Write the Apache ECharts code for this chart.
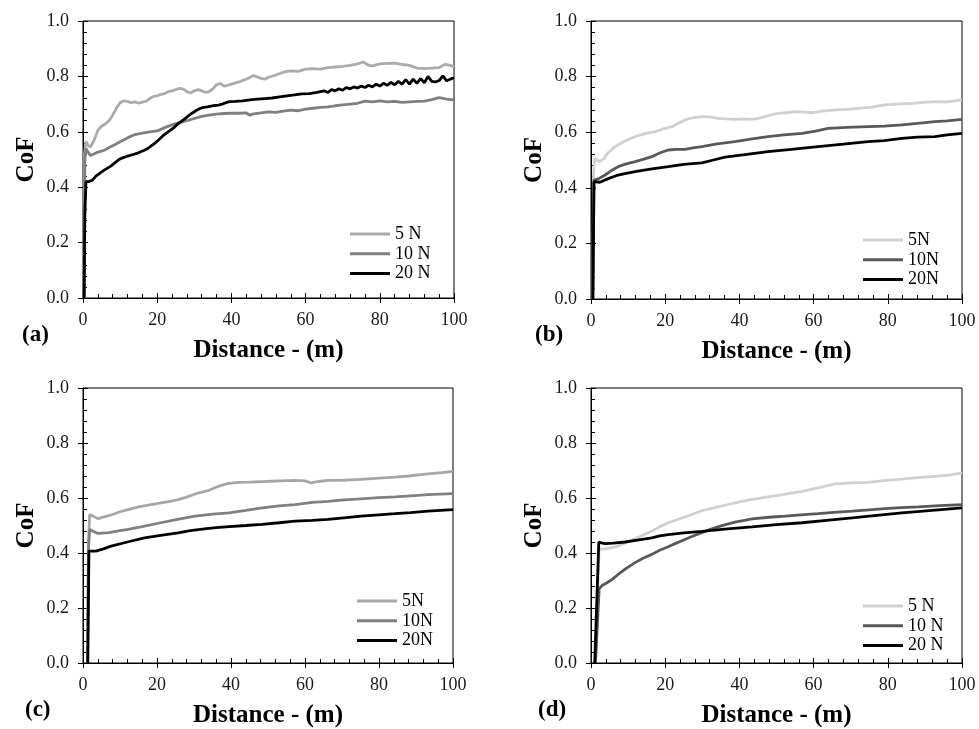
<!DOCTYPE html>
<html>
<head>
<meta charset="utf-8">
<script src="https://cdn.jsdelivr.net/npm/echarts@6.0.0/dist/echarts.min.js"></script>
<style>
  html, body { margin: 0; padding: 0; background: #fff; }
  #chart { width: 979px; height: 729px; }
</style>
</head>
<body>
<div id="chart"></div>
<script>
// [distance (m), CoF] pairs
const a5N = [[0.3,0],[0.4,0.52],[0.8,0.565],[1.4,0.55],[2,0.545],[3,0.57],[4,0.605],[5,0.62],[6,0.628],[7,0.64],[8,0.66],[9,0.685],[10,0.705],[11,0.712],[12,0.71],[13,0.705],[14,0.708],[15,0.703],[16,0.707],[17,0.71],[18,0.72],[19,0.728],[20,0.73],[21,0.735],[22,0.738],[23,0.745],[24,0.748],[25,0.752],[26,0.757],[27,0.754],[28,0.745],[29,0.74],[30,0.748],[31,0.752],[32,0.748],[33,0.742],[34,0.745],[35,0.755],[36,0.77],[37,0.775],[38,0.765],[39,0.768],[40,0.772],[42,0.78],[44,0.79],[46,0.803],[48,0.793],[49,0.79],[50,0.797],[52,0.805],[54,0.815],[56,0.82],[58,0.818],[60,0.826],[62,0.828],[64,0.826],[66,0.832],[68,0.834],[70,0.836],[72,0.84],[74,0.845],[75.5,0.852],[77,0.84],[78,0.838],[80,0.845],[82,0.847],[84,0.848],[86,0.843],[88,0.84],[90,0.83],[92,0.828],[94,0.83],[96,0.832],[97.5,0.843],[99,0.84],[100,0.835]];
const a10N = [[0.3,0],[0.5,0.5],[0.8,0.54],[1.2,0.53],[2,0.515],[3,0.52],[4,0.527],[5,0.53],[6,0.535],[7,0.543],[8,0.55],[9,0.557],[10,0.564],[12,0.578],[14,0.59],[16,0.595],[18,0.6],[20,0.603],[22,0.615],[24,0.625],[26,0.633],[28,0.64],[30,0.648],[32,0.656],[34,0.66],[36,0.664],[38,0.666],[40,0.667],[42,0.667],[44,0.668],[45,0.66],[46,0.665],[48,0.668],[50,0.672],[52,0.67],[54,0.675],[56,0.678],[58,0.676],[60,0.682],[62,0.685],[64,0.688],[66,0.69],[68,0.694],[70,0.697],[72,0.7],[74,0.703],[76,0.711],[78,0.708],[80,0.712],[82,0.708],[84,0.71],[86,0.706],[88,0.708],[90,0.71],[92,0.711],[94,0.716],[96,0.723],[98,0.718],[100,0.715]];
const a20N = [[0.3,0],[0.5,0.3],[0.8,0.42],[1.5,0.42],[2.5,0.425],[3.5,0.44],[4.5,0.45],[5.5,0.46],[6.5,0.468],[7.5,0.476],[8.5,0.487],[9.5,0.498],[10.5,0.505],[11.5,0.51],[12.5,0.514],[13.5,0.518],[14.5,0.522],[15.5,0.528],[16.5,0.533],[17.5,0.54],[18.5,0.55],[19.5,0.56],[20.5,0.572],[21.5,0.585],[22.5,0.595],[23.5,0.605],[24.5,0.615],[25.5,0.628],[26.5,0.638],[27.5,0.648],[28.5,0.658],[29.5,0.668],[30.5,0.677],[31.5,0.684],[32.5,0.688],[33.5,0.69],[34.5,0.693],[35.5,0.695],[36.5,0.696],[37.5,0.7],[38.5,0.705],[39.5,0.709],[41,0.71],[43,0.712],[45,0.715],[47,0.718],[49,0.72],[51,0.722],[53,0.726],[55,0.73],[57,0.733],[59,0.737],[61,0.738],[63,0.742],[65,0.748],[66,0.742],[67,0.752],[68,0.748],[69,0.755],[70,0.75],[71,0.76],[72,0.755],[73,0.762],[74,0.758],[75,0.765],[76,0.76],[77,0.768],[78,0.762],[79,0.772],[80,0.765],[81,0.775],[82,0.768],[83,0.778],[84,0.77],[85,0.782],[86,0.772],[87,0.788],[88,0.772],[89,0.79],[90,0.775],[91,0.792],[92,0.777],[93,0.8],[94,0.782],[95,0.78],[96,0.785],[97,0.802],[98,0.784],[99,0.79],[100,0.795]];

const b5N = [[0.5,0],[0.7,0.45],[1,0.505],[1.7,0.5],[2.4,0.494],[3.5,0.505],[4.5,0.525],[6.5,0.548],[9,0.567],[11.9,0.584],[14.5,0.595],[17.3,0.602],[19.5,0.612],[21.8,0.62],[23.5,0.632],[25.3,0.644],[27.5,0.652],[29.9,0.656],[32,0.655],[34.2,0.65],[36.5,0.648],[38.8,0.646],[41,0.648],[43.4,0.646],[45,0.65],[46.9,0.656],[48.5,0.662],[50.4,0.668],[52.5,0.67],[55,0.674],[57.5,0.672],[59.6,0.67],[62.5,0.676],[65.8,0.68],[69,0.682],[72,0.686],[75.5,0.69],[79.2,0.698],[83,0.702],[86.5,0.704],[89.5,0.707],[92.7,0.71],[96,0.709],[100,0.716]];
const b10N = [[0.5,0],[0.8,0.428],[2,0.432],[3.8,0.446],[5.5,0.462],[7.3,0.476],[9.5,0.486],[11.9,0.494],[14,0.502],[16.4,0.512],[18.5,0.525],[20.8,0.536],[23,0.538],[25.3,0.538],[27.5,0.544],[29.9,0.548],[34,0.558],[38.8,0.566],[43,0.575],[47.7,0.584],[52,0.59],[56.9,0.596],[60.5,0.604],[63.9,0.614],[69,0.617],[74.7,0.62],[79,0.622],[83.8,0.626],[88,0.632],[92.7,0.638],[96,0.641],[100,0.646]];
const b20N = [[0.5,0],[0.8,0.422],[2.4,0.42],[4.5,0.432],[7.3,0.446],[9.5,0.452],[11.9,0.458],[16,0.467],[20.8,0.476],[25,0.484],[29.9,0.49],[33,0.5],[36.1,0.51],[42,0.52],[47.7,0.53],[54,0.538],[61.2,0.548],[68,0.557],[74.7,0.566],[79,0.57],[83.8,0.578],[88,0.582],[92.7,0.584],[96,0.59],[100,0.596]];

const c5N = [[1.2,0],[1.5,0.45],[1.8,0.54],[2.6,0.535],[4,0.525],[6,0.532],[8,0.54],[10,0.55],[12.2,0.558],[15,0.568],[18,0.575],[21,0.582],[23.5,0.588],[25.7,0.594],[28,0.603],[31.1,0.618],[34,0.628],[36.5,0.642],[39,0.652],[41.9,0.657],[45,0.658],[49.2,0.66],[53,0.662],[57.3,0.664],[60,0.662],[61.6,0.655],[63.5,0.66],[66.2,0.664],[70,0.664],[75.1,0.668],[80,0.672],[84.3,0.676],[88,0.68],[93.2,0.688],[97,0.692],[100,0.697]];
const c10N = [[1.2,0],[1.5,0.42],[1.8,0.486],[2.6,0.48],[4,0.471],[7,0.474],[10,0.481],[12.2,0.486],[16,0.496],[21,0.51],[25.5,0.522],[30.3,0.534],[35,0.541],[39.5,0.546],[44,0.555],[48.4,0.564],[53,0.571],[57.3,0.576],[62,0.584],[66.2,0.588],[70.5,0.593],[75.1,0.597],[80,0.601],[84.3,0.604],[88.5,0.608],[93.2,0.612],[100,0.616]];
const c20N = [[1.3,0],[1.6,0.407],[3.5,0.407],[5.5,0.415],[7.6,0.425],[12,0.44],[16.6,0.455],[21,0.464],[25.7,0.473],[29,0.481],[32.8,0.488],[36,0.492],[39.5,0.496],[44,0.5],[48.4,0.504],[53,0.51],[57.3,0.516],[62,0.519],[66.2,0.522],[70.5,0.528],[75.1,0.534],[80,0.539],[84.3,0.543],[88.5,0.547],[93.2,0.552],[100,0.558]];

const d5N = [[1.2,0],[2.2,0.42],[2.9,0.413],[5,0.418],[7.3,0.425],[9.5,0.438],[11.9,0.452],[14,0.465],[16.4,0.479],[18.5,0.495],[20.8,0.51],[23,0.52],[25.3,0.531],[27.5,0.542],[29.9,0.554],[34,0.567],[38.8,0.582],[43,0.594],[47.7,0.604],[52,0.613],[56.9,0.624],[61.5,0.638],[65.8,0.651],[70,0.655],[74.7,0.657],[79,0.663],[83.8,0.669],[88,0.674],[92.7,0.679],[96.5,0.683],[100,0.691]];
const d10N = [[1.2,0],[2.2,0.27],[3,0.282],[4.3,0.292],[5.8,0.305],[7.3,0.322],[9.5,0.344],[11.9,0.365],[14,0.381],[16.4,0.395],[18.5,0.41],[20.8,0.423],[23,0.436],[25.3,0.449],[27.5,0.462],[29.9,0.474],[32,0.485],[34.2,0.495],[36.5,0.504],[38.8,0.512],[41,0.518],[43.4,0.524],[48,0.53],[52.3,0.534],[56.5,0.539],[61.2,0.543],[65.5,0.548],[70.4,0.552],[75,0.557],[79.2,0.561],[83.5,0.565],[88.2,0.568],[94,0.572],[100,0.576]];
const d20N = [[1,0],[2.1,0.44],[2.8,0.437],[3.8,0.434],[6,0.436],[9.2,0.44],[12.5,0.447],[16.4,0.455],[18.5,0.462],[20.8,0.467],[25,0.473],[29.9,0.479],[36,0.487],[43.4,0.495],[50,0.503],[56.9,0.51],[63.5,0.519],[70.4,0.528],[77,0.537],[83.8,0.546],[92,0.555],[100,0.564]];

const legendA = ['5 N', '10 N', '20 N'];
const legendB = ['5N', '10N', '20N'];
const panelLabels = ['(a)', '(b)', '(c)', '(d)'];
const xTicks = [0, 100, 20];   // min, max, interval
const yTicks = [0, 1, 0.2];

const FONT = 'Liberation Serif';

// panel layout: grid box, legend pos, panel label pos
const panels = [
  { key: 'a', grid: [83, 21, 371, 277], legend: [350, 225], label: [22, 337], names: legendA,
    data: [a5N, a10N, a20N], colors: ['#ababab', '#7f7f7f', '#000000'] },
  { key: 'b', grid: [591, 21, 371, 278], legend: [863, 231], label: [535, 337], names: legendB,
    data: [b5N, b10N, b20N], colors: ['#d0d0d0', '#595959', '#000000'] },
  { key: 'c', grid: [83, 388, 370, 276], legend: [357, 592], label: [25, 712], names: legendB,
    data: [c5N, c10N, c20N], colors: ['#a6a6a6', '#808080', '#000000'] },
  { key: 'd', grid: [591, 388, 371, 276], legend: [863, 597], label: [538, 712], names: legendA,
    data: [d5N, d10N, d20N], colors: ['#d0d0d0', '#595959', '#000000'] }
];

const grid = [], xAxis = [], yAxis = [], series = [], legend = [], graphic = [];

panels.forEach((p, i) => {
  grid.push({
    left: p.grid[0], top: p.grid[1], width: p.grid[2], height: p.grid[3],
    show: true, borderColor: '#000', borderWidth: 1, backgroundColor: 'transparent'
  });
  // main axes: labels + outward major ticks
  xAxis.push({
    type: 'value', gridIndex: i, min: xTicks[0], max: xTicks[1], interval: xTicks[2],
    position: 'bottom',
    name: 'Distance - (m)', nameLocation: 'middle', nameGap: 40,
    nameTextStyle: { fontFamily: FONT, fontWeight: 'bold', fontSize: 25, color: '#000' },
    axisLine: { show: true, lineStyle: { color: '#000', width: 1 } },
    axisTick: { show: true, length: 5, lineStyle: { color: '#000' } },
    axisLabel: { margin: 13, fontFamily: FONT, fontSize: 18, color: '#1a1a1a' },
    splitLine: { show: false }
  });
  // overlay axis: only inward ticks + minor ticks
  xAxis.push({
    type: 'value', gridIndex: i, min: xTicks[0], max: xTicks[1], interval: xTicks[2],
    position: 'bottom',
    axisLine: { show: false },
    axisTick: { show: true, inside: true, length: 5, lineStyle: { color: '#000' } },
    minorTick: { show: true, splitNumber: 5, length: 4, lineStyle: { color: '#000' } },
    axisLabel: { show: false },
    splitLine: { show: false }
  });
  yAxis.push({
    type: 'value', gridIndex: i, min: yTicks[0], max: yTicks[1], interval: yTicks[2],
    position: 'left',
    name: 'CoF', nameLocation: 'middle', nameGap: 44,
    nameTextStyle: { fontFamily: FONT, fontWeight: 'bold', fontSize: 25, color: '#000' },
    axisLine: { show: true, lineStyle: { color: '#000', width: 1 } },
    axisTick: { show: true, length: 5, lineStyle: { color: '#000' } },
    axisLabel: { margin: 14, fontFamily: FONT, fontSize: 18, color: '#1a1a1a',
      formatter: v => v.toFixed(1) },
    splitLine: { show: false }
  });
  yAxis.push({
    type: 'value', gridIndex: i, min: yTicks[0], max: yTicks[1], interval: yTicks[2],
    position: 'left',
    axisLine: { show: false },
    axisTick: { show: true, inside: true, length: 5, lineStyle: { color: '#000' } },
    minorTick: { show: true, splitNumber: 5, length: 4, lineStyle: { color: '#000' } },
    axisLabel: { show: false },
    splitLine: { show: false }
  });

  const ids = p.names.map(n => p.key + ':' + n);
  p.data.forEach((d, k) => {
    series.push({
      name: ids[k], type: 'line', xAxisIndex: 2 * i, yAxisIndex: 2 * i,
      data: d, showSymbol: false, symbol: 'none', smooth: false,
      lineStyle: { color: p.colors[k], width: 2.8 },
      itemStyle: { color: p.colors[k] },
      z: 2 + k
    });
  });

  legend.push({
    data: ids, orient: 'vertical', left: p.legend[0], top: p.legend[1], padding: 0,
    icon: 'rect', itemWidth: 40, itemHeight: 3, itemGap: 1.8,
    formatter: name => name.slice(2),
    textStyle: { fontFamily: FONT, fontSize: 18, color: '#000', lineHeight: 18 },
    selectedMode: false
  });

  graphic.push({
    type: 'text', left: p.label[0], top: p.label[1] - 13,
    style: { text: panelLabels[i], font: 'bold 23px "' + FONT + '"', fill: '#000' }
  });
});

const chart = echarts.init(document.getElementById('chart'), null, { renderer: 'canvas' });
chart.setOption({
  backgroundColor: '#fff',
  animation: false,
  grid, xAxis, yAxis, series, legend, graphic
});
</script>
</body>
</html>
